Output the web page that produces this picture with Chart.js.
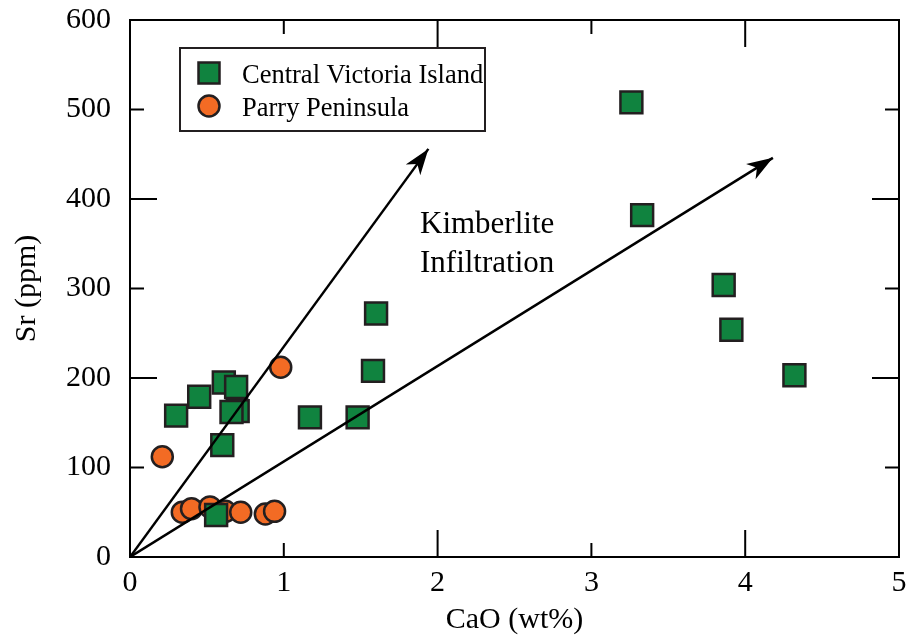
<!DOCTYPE html>
<html>
<head>
<meta charset="utf-8">
<script src="https://cdn.jsdelivr.net/npm/chart.js@4.4.0/dist/chart.umd.min.js"></script>
<style>
  html, body { margin: 0; padding: 0; background: #fff; }
  #wrap { width: 907px; height: 635px; }
</style>
</head>
<body>
<div id="wrap"><canvas id="chart"></canvas></div>
<script>
// Central Victoria Island (squares)
const cviCaO = [0.30, 0.45, 0.61, 0.69, 0.70, 0.66, 0.60, 0.56, 1.17, 1.48, 1.58, 1.60, 3.26, 3.33, 3.86, 3.91, 4.32];
const cviSr  = [158, 179, 195, 190, 163, 162, 125, 47, 156, 156, 208, 272, 508, 382, 304, 254, 203];

// Parry Peninsula (circles)
const parryCaO = [0.98, 0.21, 0.34, 0.40, 0.52, 0.62, 0.72, 0.88, 0.94];
const parrySr  = [212, 112, 50, 54, 56, 51, 50, 48, 51];

// kimberlite infiltration arrows, start -> tip
const arrowCaO = [[0, 1.94], [0, 4.18]];
const arrowSr  = [[0, 456], [0, 446]];

const xTicks = [0, 1, 2, 3, 4, 5];
const yTicks = [0, 100, 200, 300, 400, 500, 600];

const legendLabels = ['Central Victoria Island', 'Parry Peninsula'];
const noteLines = ['Kimberlite', 'Infiltration'];

const serif = '"Liberation Serif", "Times New Roman", serif';
const ink = '#231f20';
const green = '#10833f';
const orange = '#f36b24';

const toPoints = (xs, ys) => xs.map((x, i) => ({ x: x, y: ys[i] }));

// frame, inward ticks on all four sides, arrowheads, legend and note
const decorPlugin = {
  id: 'decor',
  afterDatasetsDraw(chart) {
    const ctx = chart.ctx;
    const xs = chart.scales.x;
    const ys = chart.scales.y;
    ctx.save();
    ctx.fillStyle = '#000';
    arrowCaO.forEach((ax, i) => {
      const x0 = xs.getPixelForValue(ax[0]), y0 = ys.getPixelForValue(arrowSr[i][0]);
      const x1 = xs.getPixelForValue(ax[1]), y1 = ys.getPixelForValue(arrowSr[i][1]);
      const a = Math.atan2(y1 - y0, x1 - x0);
      const L = 26, W = 9;
      ctx.save();
      ctx.translate(x1, y1);
      ctx.rotate(a);
      ctx.beginPath();
      ctx.moveTo(0, 0);
      ctx.lineTo(-L, -W);
      ctx.lineTo(-L * 0.72, 0);
      ctx.lineTo(-L, W);
      ctx.closePath();
      ctx.fill();
      ctx.restore();
    });
    ctx.restore();
  },
  afterDraw(chart) {
    const ctx = chart.ctx;
    const a = chart.chartArea;
    const xs = chart.scales.x;
    const ys = chart.scales.y;
    ctx.save();
    ctx.strokeStyle = '#000';
    ctx.lineWidth = 2;
    ctx.strokeRect(a.left, a.top, a.right - a.left, a.bottom - a.top);

    ctx.beginPath();
    xTicks.forEach((v, i) => {
      const px = xs.getPixelForValue(v);
      const len = i % 2 === 0 ? 27 : 14;
      ctx.moveTo(px, a.bottom); ctx.lineTo(px, a.bottom - len);
      ctx.moveTo(px, a.top); ctx.lineTo(px, a.top + len);
    });
    yTicks.forEach((v, i) => {
      const py = ys.getPixelForValue(v);
      const len = i % 2 === 0 ? 27 : 14;
      ctx.moveTo(a.left, py); ctx.lineTo(a.left + len, py);
      ctx.moveTo(a.right, py); ctx.lineTo(a.right - len, py);
    });
    ctx.stroke();

    // legend box
    ctx.strokeStyle = ink;
    ctx.lineWidth = 2;
    ctx.strokeRect(180, 48, 305, 83);
    ctx.lineWidth = 2.5;
    ctx.fillStyle = green;
    ctx.fillRect(198.5, 62.5, 21, 21);
    ctx.strokeRect(198.5, 62.5, 21, 21);
    ctx.fillStyle = orange;
    ctx.beginPath();
    ctx.arc(209, 106, 10.5, 0, Math.PI * 2);
    ctx.fill();
    ctx.stroke();

    ctx.fillStyle = '#000';
    ctx.textBaseline = 'alphabetic';
    ctx.textAlign = 'left';
    ctx.font = '26.5px ' + serif;
    ctx.fillText(legendLabels[0], 242, 83);
    ctx.fillText(legendLabels[1], 242, 116);

    ctx.font = '31px ' + serif;
    ctx.fillText(noteLines[0], 420, 233);
    ctx.fillText(noteLines[1], 420, 272);
    ctx.restore();
  }
};

const tickFont = { family: serif, size: 30 };

new Chart(document.getElementById('chart'), {
  type: 'scatter',
  data: {
    datasets: [
      {
        label: legendLabels[0],
        data: toPoints(cviCaO, cviSr),
        pointStyle: 'rect',
        pointRadius: 15.5,
        backgroundColor: green,
        borderColor: ink,
        borderWidth: 2.5,
        order: 1
      },
      {
        label: legendLabels[1],
        data: toPoints(parryCaO, parrySr),
        pointStyle: 'circle',
        pointRadius: 10.5,
        backgroundColor: orange,
        borderColor: ink,
        borderWidth: 2.5,
        order: 2
      },
      ...arrowCaO.map((ax, i) => ({
        type: 'line',
        label: 'arrow' + i,
        data: toPoints(ax, arrowSr[i]),
        showLine: true,
        pointRadius: 0,
        borderColor: '#000',
        borderWidth: 2.5,
        fill: false,
        order: 0
      }))
    ]
  },
  options: {
    responsive: true,
    maintainAspectRatio: false,
    animation: false,
    layout: { autoPadding: false, padding: { left: 0, right: 8, top: 20, bottom: 0 } },
    plugins: {
      legend: { display: false },
      tooltip: { enabled: false }
    },
    scales: {
      x: {
        type: 'linear',
        min: 0,
        max: 5,
        afterFit: s => { s.height = 78; s.paddingLeft = 0; s.paddingRight = 0; },
        afterBuildTicks: s => { s.ticks = xTicks.map(v => ({ value: v })); },
        ticks: { color: '#000', font: tickFont, padding: 8, maxRotation: 0 },
        grid: { display: false, drawTicks: false },
        border: { display: false },
        title: {
          display: true,
          text: 'CaO (wt%)',
          color: '#000',
          font: { family: serif, size: 30, lineHeight: 1 },
          padding: { top: 0, bottom: 0 }
        }
      },
      y: {
        type: 'linear',
        min: 0,
        max: 600,
        afterFit: s => { s.width = 130; s.paddingTop = 0; s.paddingBottom = 0; },
        afterBuildTicks: s => { s.ticks = yTicks.map(v => ({ value: v })); },
        ticks: { color: '#000', font: tickFont, padding: 19 },
        grid: { display: false, drawTicks: false },
        border: { display: false },
        title: {
          display: true,
          text: 'Sr (ppm)',
          color: '#000',
          font: { family: serif, size: 30, lineHeight: 1 },
          padding: { top: 12, bottom: 0 }
        }
      }
    }
  },
  plugins: [decorPlugin]
});
</script>
</body>
</html>
